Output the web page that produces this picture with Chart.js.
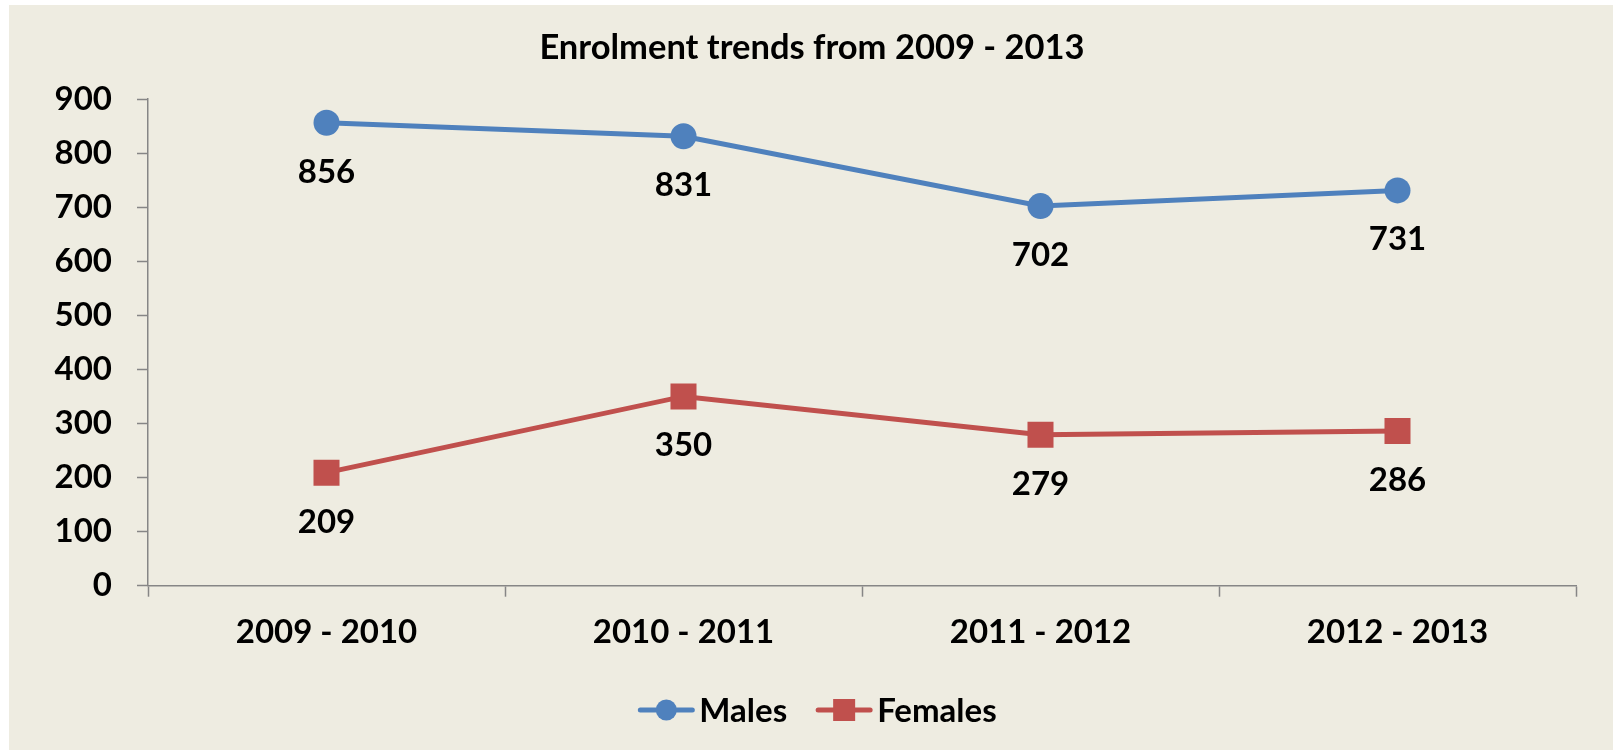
<!DOCTYPE html>
<html>
<head>
<meta charset="utf-8">
<script src="https://cdn.jsdelivr.net/npm/chart.js@4.4.1/dist/chart.umd.min.js"></script>
<style>
  html, body { margin: 0; padding: 0; background: #fff; }
  #wrap { width: 1618px; height: 750px; position: relative; }
</style>
</head>
<body>
<div id="wrap"><canvas id="enrolChart"></canvas></div>
<script>
const categories = ["2009 - 2010", "2010 - 2011", "2011 - 2012", "2012 - 2013"];
const males = [856, 831, 702, 731];
const females = [209, 350, 279, 286];
const yTicks = [0, 100, 200, 300, 400, 500, 600, 700, 800, 900];

const FONT = "Lato, 'Open Sans', sans-serif";
const AXIS = "#868686";

// beige panel behind everything
const panelBg = {
  id: "panelBg",
  beforeDraw(chart) {
    const c = chart.ctx;
    c.save();
    c.fillStyle = "#EEECE1";
    c.fillRect(9, 5, 1604, 745);
    c.restore();
  },
};

// value labels under each point
const valueLabels = {
  id: "valueLabels",
  afterDatasetsDraw(chart) {
    const c = chart.ctx;
    c.save();
    c.font = "bold 33px " + FONT;
    c.fillStyle = "#000";
    c.textAlign = "center";
    c.textBaseline = "alphabetic";
    chart.data.datasets.forEach((ds, i) => {
      chart.getDatasetMeta(i).data.forEach((pt, j) => {
        c.fillText(String(ds.data[j]), pt.x, pt.y + 60);
      });
    });
    c.restore();
  },
};

// legend drawn Excel style: line with marker through it
const lineLegend = {
  id: "lineLegend",
  afterDraw(chart) {
    const c = chart.ctx;
    c.save();
    c.font = "bold 33px " + FONT;
    const lineW = 56, gapText = 5, gapItem = 29;
    const items = chart.data.datasets.map((ds) => ({
      ds,
      w: lineW + gapText + c.measureText(ds.label).width,
    }));
    const total = items.reduce((s, it) => s + it.w, 0) + gapItem * (items.length - 1);
    let x = 817.5 - total / 2;
    const y = 710;
    items.forEach((it) => {
      const ds = it.ds;
      c.strokeStyle = ds.borderColor;
      c.lineWidth = 5;
      c.lineCap = "round";
      c.beginPath();
      c.moveTo(x + 2, y);
      c.lineTo(x + lineW - 2, y);
      c.stroke();
      c.fillStyle = ds.borderColor;
      if (ds.pointStyle === "rect") {
        c.fillRect(x + lineW / 2 - 11, y - 11, 22, 22);
      } else {
        c.beginPath();
        c.arc(x + lineW / 2, y, 10.5, 0, Math.PI * 2);
        c.fill();
      }
      c.fillStyle = "#000";
      c.textAlign = "left";
      c.textBaseline = "alphabetic";
      c.fillText(ds.label, x + lineW + gapText, y + 12);
      x += it.w + gapItem;
    });
    c.restore();
  },
};

new Chart(document.getElementById("enrolChart"), {
  type: "line",
  data: {
    labels: categories,
    datasets: [
      {
        label: "Males",
        data: males,
        borderColor: "#4F81BD",
        backgroundColor: "#4F81BD",
        borderWidth: 5,
        pointStyle: "circle",
        pointRadius: 13,
        pointBorderWidth: 0,
        tension: 0,
      },
      {
        label: "Females",
        data: females,
        borderColor: "#C0504D",
        backgroundColor: "#C0504D",
        borderWidth: 5,
        pointStyle: "rect",
        pointRadius: 18.4,
        pointBorderWidth: 0,
        tension: 0,
      },
    ],
  },
  options: {
    responsive: true,
    maintainAspectRatio: false,
    animation: false,
    layout: { padding: { left: 48, right: 42, top: 0, bottom: 66 } },
    plugins: {
      legend: { display: false },
      tooltip: { enabled: false },
      title: {
        display: true,
        text: "Enrolment trends from 2009 - 2013",
        color: "#000",
        font: { family: FONT, size: 34.5, weight: "bold" },
        padding: { top: 27.5, bottom: 30.1 },
      },
    },
    scales: {
      x: {
        offset: true,
        grid: {
          offset: true,
          drawOnChartArea: false,
          drawTicks: true,
          tickLength: 11,
          tickColor: AXIS,
          tickWidth: 1.5,
        },
        border: { display: true, color: AXIS, width: 1.5 },
        ticks: {
          color: "#000",
          font: { family: FONT, size: 33, weight: "bold" },
          padding: 16,
          maxRotation: 0,
        },
        afterFit: (s) => { s.height = 98.3; },
      },
      y: {
        min: 0,
        max: 900,
        afterBuildTicks: (s) => { s.ticks = yTicks.map((v) => ({ value: v })); },
        grid: {
          drawOnChartArea: false,
          drawTicks: true,
          tickLength: 11,
          tickColor: AXIS,
          tickWidth: 1.5,
        },
        border: { display: true, color: AXIS, width: 1.5 },
        ticks: {
          color: "#000",
          font: { family: FONT, size: 33, weight: "bold" },
          padding: 25,
        },
        afterFit: (s) => { s.width = 100; },
      },
    },
  },
  plugins: [panelBg, valueLabels, lineLegend],
});
</script>
</body>
</html>
